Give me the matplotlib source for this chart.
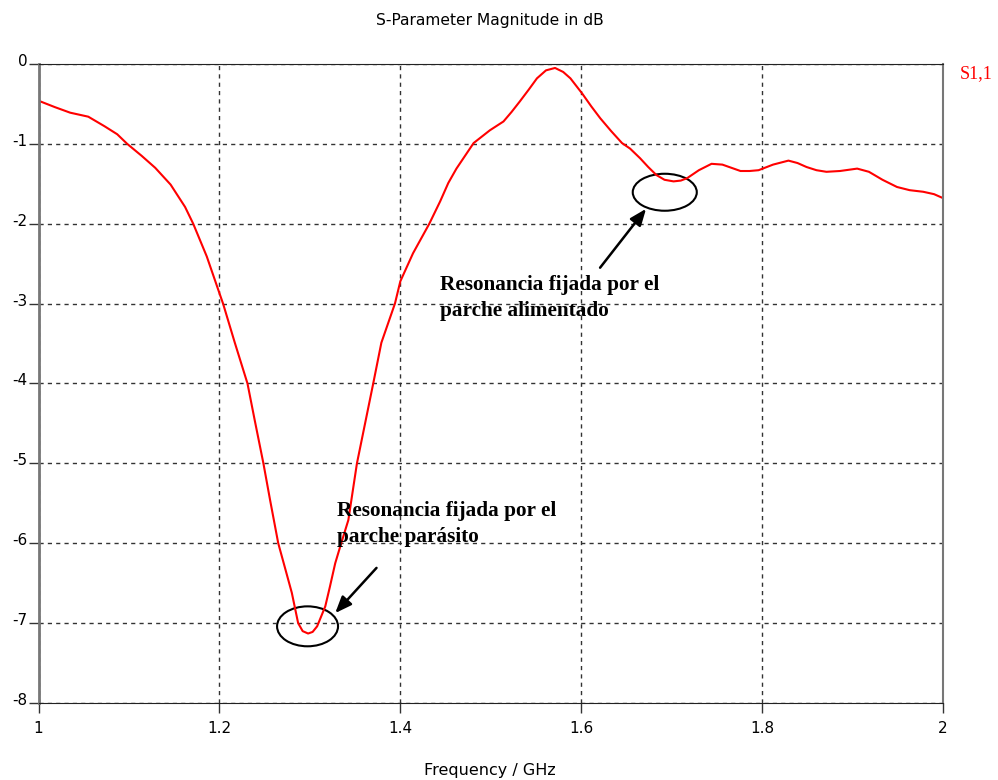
import numpy as np
import matplotlib.pyplot as plt
import matplotlib.transforms as mtransforms
from matplotlib.patches import Ellipse

# S1,1 (GHz, dB)
freq = [1.000, 1.018, 1.035, 1.055, 1.073, 1.087, 1.098, 1.114, 1.129, 1.146,
        1.162, 1.171, 1.186, 1.200, 1.204, 1.217, 1.231, 1.239, 1.2486, 1.256,
        1.265, 1.273, 1.280, 1.287, 1.292, 1.298, 1.303, 1.308, 1.317, 1.322,
        1.328, 1.3346, 1.3425, 1.352, 1.361, 1.370, 1.379, 1.394, 1.400, 1.414,
        1.432, 1.444, 1.453, 1.462, 1.481, 1.499, 1.514, 1.523, 1.532, 1.542,
        1.551, 1.561, 1.571, 1.580, 1.588, 1.601, 1.611, 1.621, 1.633, 1.645,
        1.654, 1.665, 1.674, 1.683, 1.692, 1.702, 1.710, 1.717, 1.730, 1.744,
        1.756, 1.766, 1.776, 1.786, 1.796, 1.812, 1.829, 1.839, 1.849, 1.860,
        1.871, 1.886, 1.905, 1.918, 1.933, 1.949, 1.963, 1.978, 1.990, 2.000]
s11 = [-0.46, -0.54, -0.61, -0.66, -0.78, -0.88, -1.00, -1.15, -1.30, -1.51,
       -1.79, -2.00, -2.41, -2.87, -3.00, -3.49, -4.00, -4.46, -5.00, -5.46,
       -6.00, -6.33, -6.62, -7.00, -7.10, -7.13, -7.11, -7.04, -6.79, -6.55,
       -6.25, -6.00, -5.71, -5.00, -4.50, -4.00, -3.49, -3.00, -2.72, -2.37,
       -2.00, -1.72, -1.49, -1.31, -0.99, -0.83, -0.72, -0.60, -0.47, -0.32,
       -0.18, -0.08, -0.05, -0.10, -0.18, -0.37, -0.53, -0.68, -0.84, -0.99,
       -1.06, -1.18, -1.29, -1.39, -1.45, -1.47, -1.46, -1.43, -1.33, -1.25,
       -1.26, -1.30, -1.34, -1.34, -1.33, -1.26, -1.21, -1.24, -1.29, -1.33,
       -1.35, -1.34, -1.31, -1.35, -1.45, -1.54, -1.58, -1.60, -1.63, -1.68]

xticks = [1, 1.2, 1.4, 1.6, 1.8, 2]
xticklabels = ["1", "1.2", "1.4", "1.6", "1.8", "2"]
yticks = [0, -1, -2, -3, -4, -5, -6, -7, -8]

fig = plt.figure(figsize=(9.98, 7.8), dpi=100)
ax = fig.add_axes([0.0386, 0.0987, 0.9064, 0.8193])

ax.plot(freq, s11, color="red", lw=1.5)

ax.set_xlim(1, 2)
ax.set_ylim(-8, 0)
ax.set_xticks(xticks)
ax.set_xticklabels(xticklabels)
ax.set_yticks(yticks)
ax.set_yticklabels([str(v) for v in yticks])
ax.grid(True, color="#333333", lw=1, linestyle=(0, (3, 3)))
ax.tick_params(axis="both", length=7, width=1, color="#333333",
               labelsize=11, pad=1)
ax.tick_params(axis="x", pad=6)

for lab in ax.get_yticklabels():
    lab.set_transform(lab.get_transform() +
                      mtransforms.ScaledTranslation(0, 4 / 100, fig.dpi_scale_trans))

ax.spines["left"].set_color("#777777")
ax.spines["left"].set_linewidth(2)
ax.spines["right"].set_color("#777777")
ax.spines["right"].set_linewidth(1.5)
ax.spines["top"].set_color("#222222")
ax.spines["bottom"].set_color("#222222")

fig.text(0.491, 0.974, "S-Parameter Magnitude in dB", ha="center", va="center",
         fontsize=11.2)
fig.text(0.491, 0.012, "Frequency / GHz", ha="center", va="center", fontsize=11.5)
fig.text(0.962, 0.906, "S1,1", color="red", ha="left", va="center",
         family="Liberation Serif", fontsize=13)

# annotations
ax.add_patch(Ellipse((1.2974, -7.04), 0.0674, 0.50, fill=False, lw=1.5,
                     color="black"))
ax.add_patch(Ellipse((1.6923, -1.606), 0.0708, 0.463, fill=False, lw=1.5,
                     color="black"))
ax.annotate("", xy=(1.3259, -6.90), xytext=(1.3757, -6.283),
            arrowprops=dict(arrowstyle="-|>,head_length=1.0,head_width=0.4",
                            color="black", lw=1.8))
ax.annotate("", xy=(1.6735, -1.786), xytext=(1.6189, -2.578),
            arrowprops=dict(arrowstyle="-|>,head_length=1.0,head_width=0.4",
                            color="black", lw=1.8))
ax.text(1.4437, -2.64, "Resonancia fijada por el\nparche alimentado",
        family="Liberation Serif", fontweight="bold", fontsize=15.3,
        va="top", ha="left", linespacing=1.4)
ax.text(1.330, -5.47, "Resonancia fijada por el\nparche parásito",
        family="Liberation Serif", fontweight="bold", fontsize=15.3,
        va="top", ha="left", linespacing=1.4)

fig.savefig("out.png", dpi=100)
